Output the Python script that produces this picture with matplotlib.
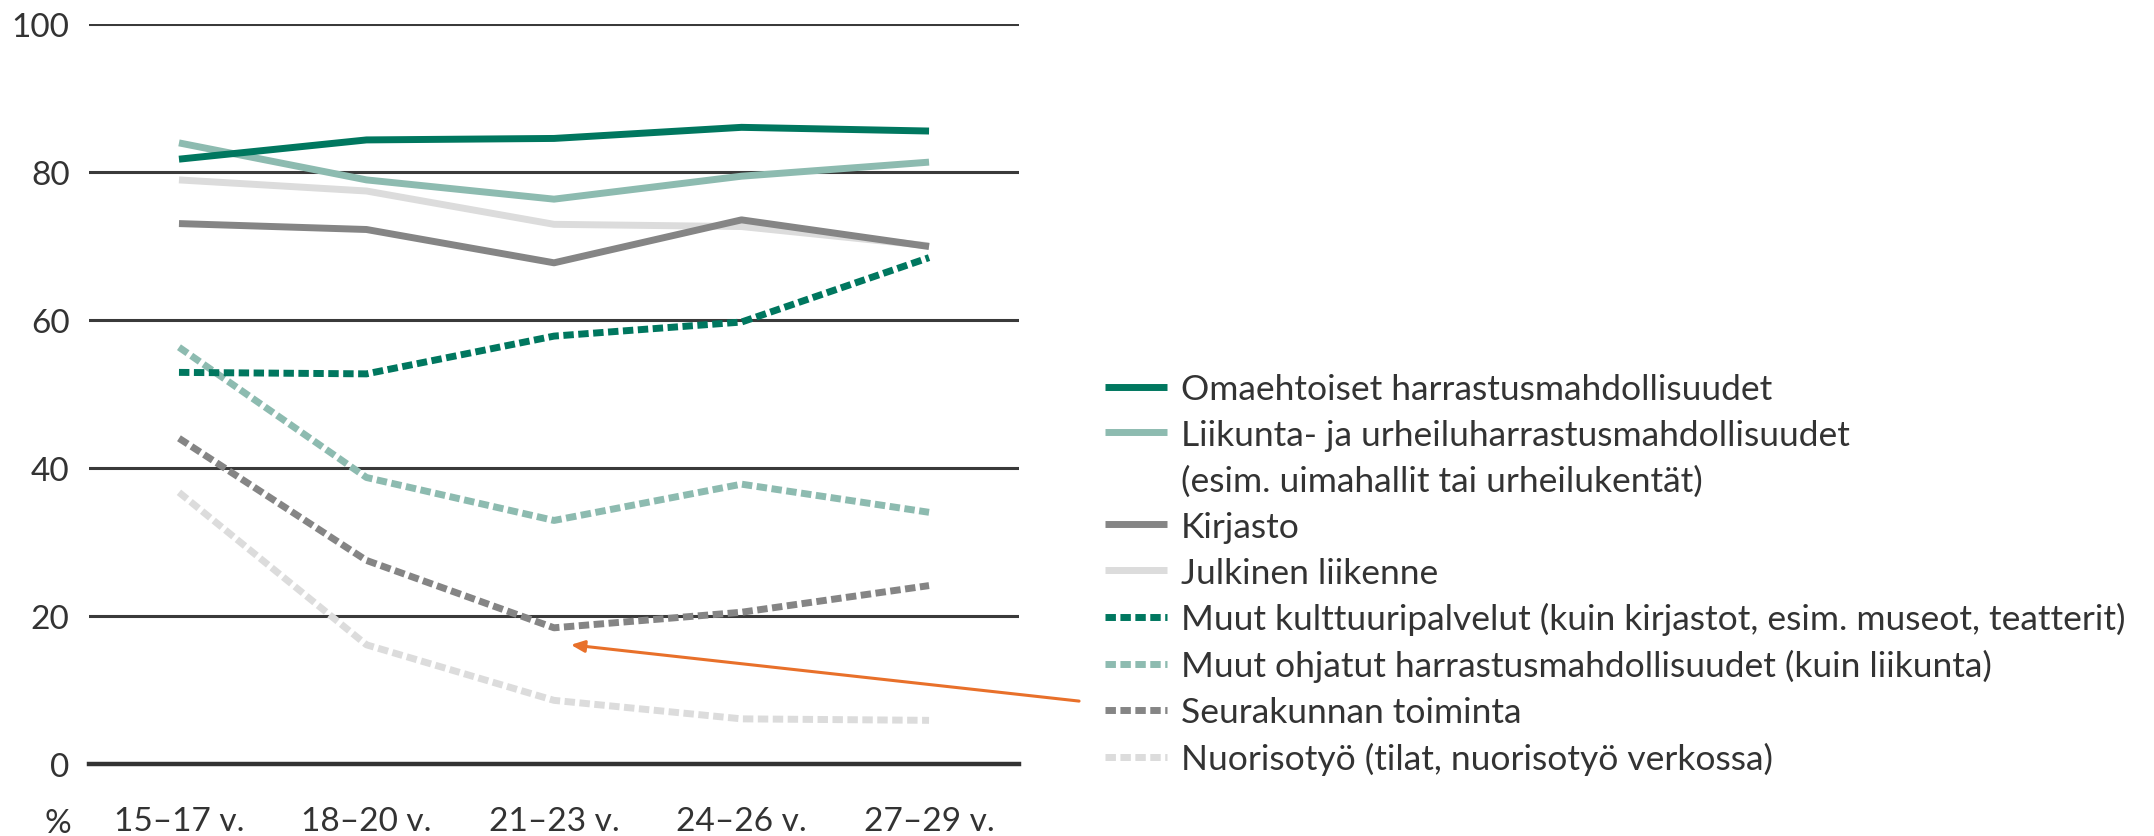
"""Nuorten palvelujen käyttö ikäryhmittäin: viivakuvio."""
import matplotlib

matplotlib.use("Agg")
import matplotlib.pyplot as plt
from matplotlib.lines import Line2D

plt.rcParams["font.family"] = ["Lato", "DejaVu Sans"]

# data
age_groups = ["15–17 v.", "18–20 v.", "21–23 v.", "24–26 v.", "27–29 v."]

omaehtoiset = [81.7, 84.3, 84.5, 86.0, 85.5]
liikunta = [83.9, 78.9, 76.3, 79.4, 81.3]
kirjasto = [73.0, 72.2, 67.7, 73.5, 69.9]
julkinen = [78.9, 77.4, 72.9, 72.6, 70.0]
kulttuuri = [52.9, 52.7, 57.8, 59.7, 68.4]
ohjatut = [56.3, 38.7, 32.9, 37.8, 34.0]
seurakunta = [44.0, 27.5, 18.4, 20.5, 24.1]
nuorisotyo = [36.7, 16.1, 8.6, 6.1, 5.9]

labels = [
    "Omaehtoiset harrastusmahdollisuudet",
    "Liikunta- ja urheiluharrastusmahdollisuudet",
    "Kirjasto",
    "Julkinen liikenne",
    "Muut kulttuuripalvelut (kuin kirjastot, esim. museot, teatterit)",
    "Muut ohjatut harrastusmahdollisuudet (kuin liikunta)",
    "Seurakunnan toiminta",
    "Nuorisotyö (tilat, nuorisotyö verkossa)",
]
liikunta_note = "(esim. uimahallit tai urheilukentät)"

DARK_TEAL = "#00775f"
LIGHT_TEAL = "#8dbbb0"
DARK_GREY = "#858585"
LIGHT_GREY = "#dcdcdc"
TEXT = "#333333"
LW = 5.0
DASH = (1.5, 0.65)
FS = 24
LEG_FS = 25.5

fig = plt.figure(figsize=(21.54, 8.37), dpi=100)
ax = fig.add_axes([0.0413, 0.086, 0.4318, 0.8845])

x = range(len(age_groups))
# (values, colour, dashed) in drawing order, lightest at the bottom
series = {
    labels[7]: (nuorisotyo, LIGHT_GREY, True),
    labels[6]: (seurakunta, DARK_GREY, True),
    labels[5]: (ohjatut, LIGHT_TEAL, True),
    labels[4]: (kulttuuri, DARK_TEAL, True),
    labels[3]: (julkinen, LIGHT_GREY, False),
    labels[2]: (kirjasto, DARK_GREY, False),
    labels[1]: (liikunta, LIGHT_TEAL, False),
    labels[0]: (omaehtoiset, DARK_TEAL, False),
}
handles = {}
for name, (vals, color, dashed) in series.items():
    kw = dict(dashes=DASH, dash_capstyle="butt") if dashed else {}
    (ln,) = ax.plot(x, vals, color=color, lw=LW, solid_capstyle="butt",
                    zorder=3, clip_on=False, **kw)
    handles[name] = ln

ax.set_xlim(-0.48, 4.48)
ax.set_ylim(0, 100)
ax.set_yticks([0, 20, 40, 60, 80, 100])
ax.set_xticks(list(x))
ax.set_xticklabels(age_groups)
for s in ax.spines.values():
    s.set_visible(False)
ax.tick_params(length=0, labelsize=FS, colors=TEXT)
ax.tick_params(axis="y", pad=14)
ax.tick_params(axis="x", pad=30)
ax.yaxis.grid(True, color="#3a3a3a", lw=2.2, zorder=1)
ax.axhline(0, color="#333333", lw=3.2, zorder=2, clip_on=False)
ax.set_axisbelow(True)

fig.text(58 / 2154, 1 - 824 / 837, "%", fontsize=FS, color=TEXT,
         ha="center", va="center")

# arrow pointing to Seurakunnan toiminta
ax.annotate("", xy=(2.09, 16.1), xytext=(4.80, 8.5),
            arrowprops=dict(arrowstyle="-|>,head_length=0.8,head_width=0.35",
                            color="#e8702a", lw=2.2, shrinkA=0, shrinkB=0),
            annotation_clip=False)

blank = Line2D([], [], color="none")
leg_handles = [handles[labels[0]], handles[labels[1]], blank] + [handles[l] for l in labels[2:]]
leg_labels = [labels[0], labels[1], liikunta_note] + labels[2:]
leg = fig.legend(leg_handles, leg_labels, loc="upper left",
                 bbox_to_anchor=(1105 / 2154, 1 - 374 / 837),
                 frameon=False, fontsize=LEG_FS, handlelength=1.75,
                 handletextpad=0.4, labelspacing=0.39, borderpad=0,
                 borderaxespad=0)
for t in leg.get_texts():
    t.set_color(TEXT)

fig.savefig("out.png", dpi=100)
